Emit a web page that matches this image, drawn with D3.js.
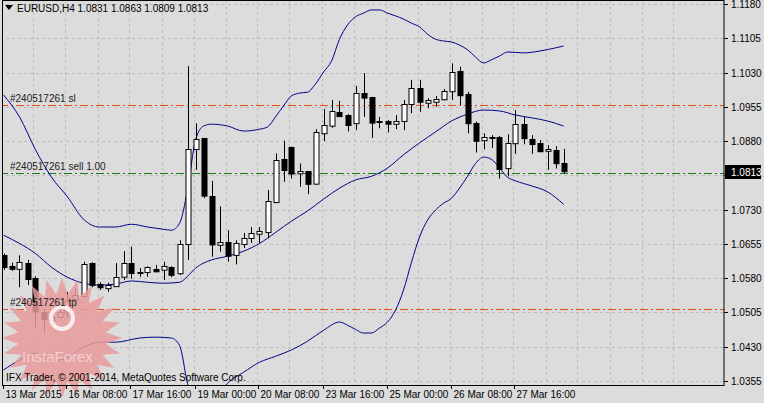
<!DOCTYPE html>
<html>
<head>
<meta charset="utf-8">
<script src="https://cdn.jsdelivr.net/npm/d3@7"></script>
<style>
  body { margin: 0; background: #fff; }
  text { font-family: "Liberation Sans", Arial, sans-serif; font-size: 10px; }
</style>
</head>
<body>
<svg id="chart" width="764" height="403"></svg>
<script>
// EURUSD H4 candles: open, high, low, close
var opens  = [1.0630,1.0607,1.0601,1.0614,1.0580,1.0507,1.0488,1.0494,1.0505,1.0534,1.0541,1.0613,1.0567,1.0558,1.0563,1.0583,1.0614,1.0593,1.0593,1.0601,1.0598,1.0604,1.0590,1.0654,1.0862,1.0886,1.0760,1.0654,1.0660,1.0630,1.0654,1.0667,1.0678,1.0681,1.0747,1.0841,1.0866,1.0809,1.0814,1.0786,1.0897,1.0914,1.0944,1.0937,1.0919,1.0985,1.0976,1.0923,1.0924,1.0918,1.0924,1.0961,1.0996,1.0964,1.0966,1.0972,1.0990,1.1034,1.0983,1.0920,1.0881,1.0888,1.0888,1.0820,1.0875,1.0917,1.0884,1.0875,1.0858,1.0860,1.0831];
var highs  = [1.0634,1.0614,1.0630,1.0620,1.0584,1.0510,1.0503,1.0523,1.0550,1.0556,1.0616,1.0615,1.0571,1.0570,1.0613,1.0639,1.0649,1.0602,1.0606,1.0609,1.0616,1.0606,1.0663,1.1044,1.0919,1.0887,1.0793,1.0737,1.0685,1.0663,1.0679,1.0692,1.0692,1.0773,1.0853,1.0881,1.0868,1.0831,1.0814,1.0906,1.0950,1.0970,1.0968,1.0939,1.1001,1.1029,1.0977,1.0933,1.0926,1.0937,1.0970,1.1014,1.1014,1.0974,1.0979,1.0994,1.1050,1.1043,1.0988,1.0923,1.0897,1.0893,1.0891,1.0895,1.0948,1.0933,1.0893,1.0882,1.0871,1.0869,1.0863];
var lows   = [1.0598,1.0596,1.0560,1.0565,1.0472,1.0460,1.0477,1.0492,1.0494,1.0519,1.0539,1.0560,1.0554,1.0550,1.0561,1.0576,1.0579,1.0583,1.0583,1.0593,1.0576,1.0582,1.0587,1.0620,1.0817,1.0755,1.0627,1.0638,1.0616,1.0610,1.0646,1.0657,1.0657,1.0667,1.0745,1.0791,1.0798,1.0780,1.0764,1.0784,1.0880,1.0909,1.0933,1.0901,1.0904,1.0933,1.0887,1.0908,1.0899,1.0906,1.0904,1.0941,1.0944,1.0952,1.0955,1.0969,1.0970,1.0959,1.0897,1.0855,1.0862,1.0865,1.0798,1.0803,1.0852,1.0873,1.0852,1.0856,1.0817,1.0820,1.0809];
var closes = [1.0604,1.0601,1.0616,1.0579,1.0507,1.0492,1.0494,1.0505,1.0530,1.0543,1.0611,1.0565,1.0560,1.0565,1.0583,1.0613,1.0592,1.0592,1.0604,1.0596,1.0606,1.0587,1.0654,1.0862,1.0884,1.0760,1.0654,1.0660,1.0630,1.0656,1.0667,1.0678,1.0684,1.0749,1.0839,1.0817,1.0808,1.0814,1.0786,1.0899,1.0915,1.0946,1.0935,1.0915,1.0985,1.0975,1.0920,1.0922,1.0918,1.0924,1.0961,1.0996,1.0966,1.0970,1.0972,1.0990,1.1032,1.0981,1.0919,1.0881,1.0888,1.0886,1.0818,1.0875,1.0917,1.0886,1.0873,1.0857,1.0862,1.0831,1.0813];

// Bollinger bands, [bar index, price]
var upperBand = [[0,1.0981],[2,1.0933],[4,1.0861],[6,1.0801],[8,1.0758],[10,1.0709],[12,1.0692],[14,1.0692],[16,1.0698],[18,1.0692],[20,1.0687],[21,1.0685],[22,1.0700],[23,1.0773],[24,1.0882],[25,1.0913],[26,1.0917],[28,1.0913],[30,1.0902],[32,1.0906],[33,1.0911],[34,1.0933],[35,1.0957],[36,1.0979],[37,1.0985],[38,1.0987],[39,1.1005],[40,1.1031],[41,1.1055],[42,1.1103],[43,1.1134],[44,1.1152],[45,1.1160],[46,1.1167],[47,1.1167],[48,1.1160],[49,1.1154],[50,1.1147],[51,1.1138],[52,1.1130],[53,1.1114],[54,1.1103],[55,1.1099],[56,1.1097],[57,1.1090],[58,1.1080],[59,1.1064],[60,1.1051],[61,1.1058],[62,1.1066],[63,1.1075],[65,1.1073],[67,1.1077],[69,1.1084],[70,1.1088]];
var middleBand = [[0,1.0674],[2,1.0656],[4,1.0634],[6,1.0604],[8,1.0582],[10,1.0569],[12,1.0565],[14,1.0567],[16,1.0574],[18,1.0571],[20,1.0569],[22,1.0571],[23,1.0584],[24,1.0602],[25,1.0613],[26,1.0620],[28,1.0628],[30,1.0639],[32,1.0656],[34,1.0680],[36,1.0705],[38,1.0727],[40,1.0753],[42,1.0777],[44,1.0795],[46,1.0803],[48,1.0821],[50,1.0850],[52,1.0876],[54,1.0900],[56,1.0924],[58,1.0939],[60,1.0948],[62,1.0946],[64,1.0937],[66,1.0931],[68,1.0924],[70,1.0913]];
var lowerBand = [[0,1.0379],[2,1.0401],[4,1.0416],[6,1.0398],[8,1.0407],[10,1.0429],[12,1.0440],[14,1.0440],[17,1.0449],[19,1.0451],[21,1.0449],[22,1.0433],[23,1.0350],[24,1.0291],[25,1.0269],[26,1.0291],[27,1.0328],[28,1.0350],[30,1.0374],[32,1.0396],[34,1.0409],[36,1.0423],[38,1.0442],[40,1.0466],[42,1.0484],[43,1.0477],[44,1.0468],[45,1.0460],[46,1.0460],[47,1.0471],[48,1.0484],[49,1.0510],[50,1.0554],[51,1.0615],[52,1.0670],[53,1.0707],[54,1.0729],[55,1.0744],[56,1.0755],[57,1.0777],[58,1.0803],[59,1.0831],[60,1.0845],[61,1.0840],[62,1.0821],[63,1.0801],[64,1.0793],[66,1.0782],[68,1.0769],[70,1.0742]];

var priceTicks = [1.1180,1.1105,1.1030,1.0955,1.0880,1.0805,1.0730,1.0655,1.0580,1.0505,1.0430,1.0355];
var timeTickBars = [0,8,16,24,32,40,48,56,64];
var timeTickLabels = ["13 Mar 2015","16 Mar 08:00","17 Mar 16:00","19 Mar 00:00","20 Mar 08:00","23 Mar 16:00","25 Mar 00:00","26 Mar 08:00","27 Mar 16:00"];

var orderNames = ["#240517261 sl", "#240517261 sell 1.00", "#240517261 tp"];
var orderPrices = [1.0958, 1.0810, 1.0512];
var orderColors = ["#e8491d", "#1a7a1a", "#e8491d"];
var bidPrice = 1.0813;

var svg = d3.select("#chart");
var plotRight = 724, plotBottom = 385;

var x = d3.scaleLinear().domain([0, 70]).range([3.5, 563.5]);
var y = d3.scaleLinear().domain([1.0355, 1.1180]).range([381, 4]);

svg.append("rect").attr("width", 764).attr("height", 403).attr("fill", "#dcdcdc");

svg.append("defs").append("clipPath").attr("id", "plot")
    .append("rect").attr("x", 3).attr("y", 1).attr("width", plotRight - 3).attr("height", plotBottom - 1);

var plot = svg.append("g").attr("clip-path", "url(#plot)");

// grid
var gridBars = d3.range(0, 88, 4);
plot.selectAll(".vgrid").data(gridBars).enter().append("line")
    .attr("x1", function (d) { return Math.round(x(d)) - 1.5; })
    .attr("x2", function (d) { return Math.round(x(d)) - 1.5; })
    .attr("y1", 0).attr("y2", plotBottom)
    .attr("stroke", "#bdbdbd").attr("stroke-dasharray", "3,3");
plot.selectAll(".hgrid").data(priceTicks).enter().append("line")
    .attr("x1", 0).attr("x2", plotRight)
    .attr("y1", function (d) { return Math.round(y(d)) + 0.5; })
    .attr("y2", function (d) { return Math.round(y(d)) + 0.5; })
    .attr("stroke", "#bdbdbd").attr("stroke-dasharray", "3,3");

// watermark
var star = d3.range(48).map(function (i) {
    var a = i / 48 * Math.PI * 2, r = i % 2 ? 44 : 60;
    return [62 + r * Math.cos(a), 338 + r * Math.sin(a)];
});
svg.append("polygon").attr("points", star.join(" "))
    .attr("fill", "#e89a9a").attr("opacity", 0.85);
svg.append("circle").attr("cx", 62).attr("cy", 318).attr("r", 11)
    .attr("fill", "none").attr("stroke", "#fff").attr("stroke-width", 4).attr("opacity", 0.8);
svg.append("text").attr("x", 22).attr("y", 362).text("InstaForex")
    .attr("fill", "#f5d0d0").style("font-size", "15px");

// order lines
orderPrices.forEach(function (p, i) {
    var yy = Math.round(y(p)) + 0.5;
    plot.append("line").attr("x1", 0).attr("x2", plotRight).attr("y1", yy).attr("y2", yy)
        .attr("stroke", orderColors[i]).attr("stroke-dasharray", "8,3,2,3");
    svg.append("text").attr("x", 10).attr("y", yy - 4).text(orderNames[i]).attr("fill", "#222");
});

// bands
var line = d3.line()
    .x(function (d) { return x(d[0]); })
    .y(function (d) { return y(d[1]); })
    .curve(d3.curveMonotoneX);
[upperBand, middleBand, lowerBand].forEach(function (band) {
    plot.append("path").attr("d", line(band))
        .attr("fill", "none").attr("stroke", "#00008b").attr("stroke-width", 1);
});

// candles
var bars = d3.range(opens.length);
plot.selectAll(".wick").data(bars).enter().append("line")
    .attr("x1", function (i) { return Math.round(x(i)) + 0.5; })
    .attr("x2", function (i) { return Math.round(x(i)) + 0.5; })
    .attr("y1", function (i) { return y(highs[i]); })
    .attr("y2", function (i) { return y(lows[i]); })
    .attr("stroke", "#000");
plot.selectAll(".body").data(bars).enter().append("rect")
    .attr("x", function (i) { return Math.round(x(i)) - 2; })
    .attr("width", 5)
    .attr("y", function (i) { return Math.round(y(Math.max(opens[i], closes[i]))) + 0.5; })
    .attr("height", function (i) { return Math.max(1, Math.abs(y(opens[i]) - y(closes[i]))); })
    .attr("fill", function (i) { return closes[i] >= opens[i] ? "#fff" : "#000"; })
    .attr("stroke", "#000");

// frame
svg.append("rect").attr("x", 2.5).attr("y", 0.5).attr("width", plotRight - 2.5).attr("height", plotBottom)
    .attr("fill", "none").attr("stroke", "#000");

// price axis
var yAxis = svg.append("g");
priceTicks.forEach(function (p) {
    var yy = Math.round(y(p)) + 0.5;
    yAxis.append("line").attr("x1", plotRight).attr("x2", plotRight + 4).attr("y1", yy).attr("y2", yy).attr("stroke", "#000");
    yAxis.append("text").attr("x", 731).attr("y", yy + 3.5).text(p.toFixed(4)).attr("fill", "#000");
});
var by = Math.round(y(bidPrice));
svg.append("rect").attr("x", 725).attr("y", by - 7).attr("width", 36).attr("height", 14).attr("fill", "#000");
svg.append("text").attr("x", 731).attr("y", by + 4).text(bidPrice.toFixed(4)).attr("fill", "#fff");

// time axis
timeTickBars.forEach(function (b, i) {
    var xx = Math.round(x(b)) - 0.5;
    svg.append("line").attr("x1", xx).attr("x2", xx).attr("y1", plotBottom).attr("y2", plotBottom + 4).attr("stroke", "#000");
    svg.append("text").attr("x", xx + 2).attr("y", 398).text(timeTickLabels[i]).attr("fill", "#000");
});

// header and copyright
svg.append("path").attr("d", "M5,5 L13,5 L9,10 Z").attr("fill", "#000");
svg.append("text").attr("x", 17).attr("y", 12)
    .text("EURUSD,H4  " + [opens[70], highs[70], lows[70], closes[70]].map(function (v) { return v.toFixed(4); }).join(" "))
    .attr("fill", "#000");
svg.append("text").attr("x", 6).attr("y", 381)
    .text("IFX Trader, \u00a9 2001-2014, MetaQuotes Software Corp.").attr("fill", "#000");
</script>
</body>
</html>
